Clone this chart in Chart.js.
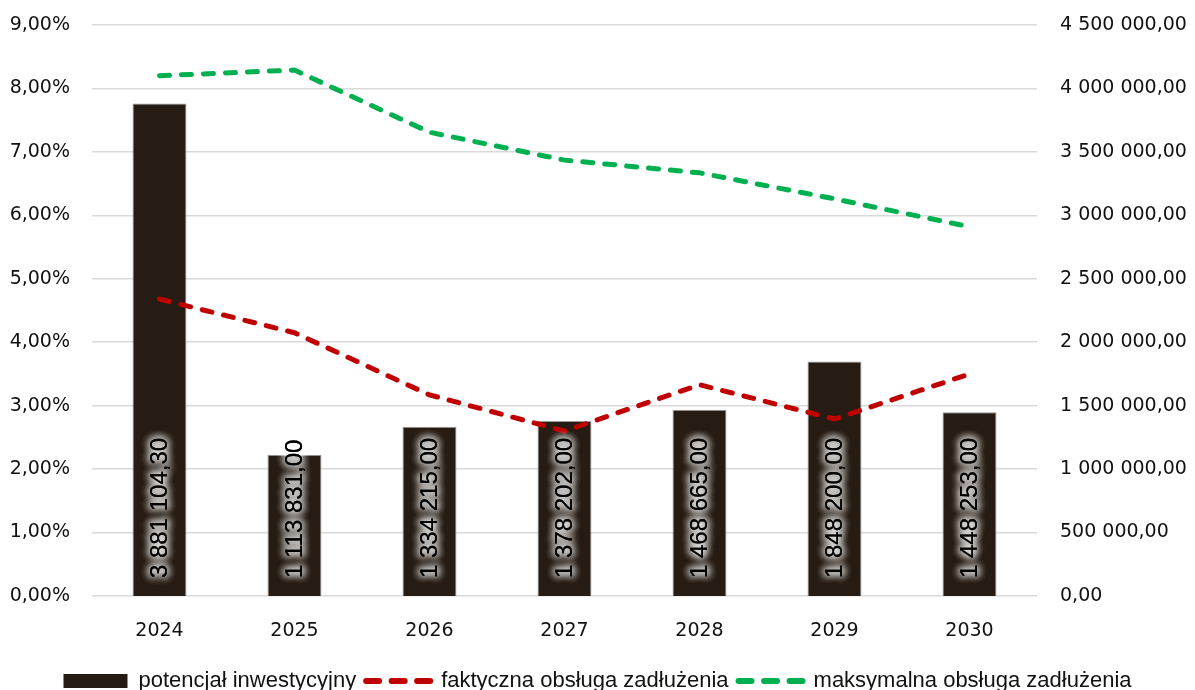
<!DOCTYPE html>
<html lang="pl">
<head>
<meta charset="utf-8">
<title>Potencjał inwestycyjny i obsługa zadłużenia</title>
<script src="https://cdn.jsdelivr.net/npm/chart.js@4/dist/chart.umd.min.js"></script>
<style>
  html, body { margin: 0; padding: 0; background: #fff; }
  #wrap { width: 1195px; height: 690px; position: relative; }
</style>
</head>
<body>
<div id="wrap"><canvas id="chart"></canvas></div>
<script>
'use strict';

// lata
const years = ['2024', '2025', '2026', '2027', '2028', '2029', '2030'];
// potencjał inwestycyjny (prawa oś, zł)
const investment = [3881104.30, 1113831.00, 1334215.00, 1378202.00, 1468665.00, 1848200.00, 1448253.00];
// obsługa zadłużenia (lewa oś, %)
const actualDebt = [4.68, 4.15, 3.17, 2.60, 3.33, 2.79, 3.50];
const maxDebt    = [8.20, 8.29, 7.31, 6.87, 6.67, 6.26, 5.82];
// osie
const pctTicks   = [0, 1, 2, 3, 4, 5, 6, 7, 8, 9];
const moneyTicks = [0, 500000, 1000000, 1500000, 2000000, 2500000, 3000000, 3500000, 4000000, 4500000];

(function () {
  const money = v => {
    const [i, d] = Math.abs(v).toFixed(2).split('.');
    return i.replace(/\B(?=(\d{3})+(?!\d))/g, ' ') + ',' + d;
  };
  const pct = v => v.toFixed(2).replace('.', ',') + '%';

  const TICK_FONT = { family: '"DejaVu Sans", Verdana, sans-serif', size: 19 };

  // pionowe etykiety wartości w słupkach, z białą poświatą
  const barLabels = {
    id: 'barLabels',
    afterDatasetsDraw(chart) {
      const meta = chart.getDatasetMeta(0);
      const base = chart.scales.y1.getPixelForValue(0);
      const ctx = chart.ctx;
      meta.data.forEach((bar, i) => {
        ctx.save();
        ctx.translate(bar.x, base - 18);
        ctx.rotate(-Math.PI / 2);
        ctx.font = '24px "Liberation Sans", Arial, sans-serif';
        ctx.textAlign = 'left';
        ctx.textBaseline = 'middle';
        ctx.fillStyle = '#000';
        ctx.shadowColor = 'rgba(255,255,255,1)';
        ctx.shadowBlur = 8;
        for (let k = 0; k < 4; k++) ctx.fillText(money(investment[i]), 0, 1);
        ctx.restore();
      });
    }
  };

  // stała szerokość osi pionowej, bez dodatkowego odstępu nad/pod
  const fitY = w => s => { s.width = w; s.paddingTop = 0; s.paddingBottom = 0; };

  new Chart(document.getElementById('chart'), {
    data: {
      labels: years,
      datasets: [
        { type: 'bar', label: 'potencjał inwestycyjny', data: investment, yAxisID: 'y1', order: 2,
          backgroundColor: '#261c13', borderColor: '#9a9a9a', borderWidth: 1,
          barPercentage: 0.4, categoryPercentage: 1 },
        { type: 'line', label: 'faktyczna obsługa zadłużenia', data: actualDebt, yAxisID: 'y', order: 1,
          borderColor: '#c00000', backgroundColor: '#c00000', borderWidth: 5, borderDash: [10, 12],
          borderCapStyle: 'round', pointRadius: 0, tension: 0, fill: false },
        { type: 'line', label: 'maksymalna obsługa zadłużenia', data: maxDebt, yAxisID: 'y', order: 0,
          borderColor: '#00b050', backgroundColor: '#00b050', borderWidth: 5, borderDash: [10, 12],
          borderCapStyle: 'round', pointRadius: 0, tension: 0, fill: false },
      ],
    },
    options: {
      responsive: true, maintainAspectRatio: false, animation: false,
      layout: { padding: { top: 25, bottom: -12, left: 0, right: 0 } },
      plugins: {
        tooltip: { enabled: false },
        legend: {
          position: 'bottom',
          labels: {
            color: '#111',
            font: { family: '"Liberation Sans", Arial, sans-serif', size: 22 },
            usePointStyle: true, pointStyleWidth: 64, boxHeight: 14, padding: 10,
            generateLabels(chart) {
              const items = Chart.defaults.plugins.legend.labels.generateLabels(chart);
              items.forEach(it => {
                const ds = chart.data.datasets[it.datasetIndex];
                if (ds.type === 'line') {
                  Object.assign(it, { pointStyle: 'line', lineDash: [13, 12.5], lineCap: 'round', lineWidth: 6, strokeStyle: ds.borderColor });
                } else {
                  Object.assign(it, { pointStyle: 'rect', lineWidth: 0, fillStyle: ds.backgroundColor });
                }
              });
              return items.sort((a, b) => a.datasetIndex - b.datasetIndex);
            },
          },
        },
      },
      scales: {
        x: {
          grid: { display: false }, border: { display: false },
          ticks: { color: '#111', font: TICK_FONT, padding: 16 },
          afterFit: s => { s.height = 64; },
        },
        y: {
          position: 'left', min: 0, max: 9,
          afterBuildTicks: s => { s.ticks = pctTicks.map(v => ({ value: v })); },
          grid: { color: '#d9d9d9', lineWidth: 1.5, drawTicks: false }, border: { display: false },
          ticks: { color: '#111', font: TICK_FONT, padding: 22, callback: v => pct(v) },
          afterFit: fitY(92),
        },
        y1: {
          position: 'right', min: 0, max: 4500000,
          afterBuildTicks: s => { s.ticks = moneyTicks.map(v => ({ value: v })); },
          grid: { display: false, drawTicks: false }, border: { display: false },
          ticks: { color: '#111', font: TICK_FONT, padding: 23, callback: v => money(v) },
          afterFit: fitY(158),
        },
      },
    },
    plugins: [barLabels],
  });
})();
</script>
</body>
</html>
